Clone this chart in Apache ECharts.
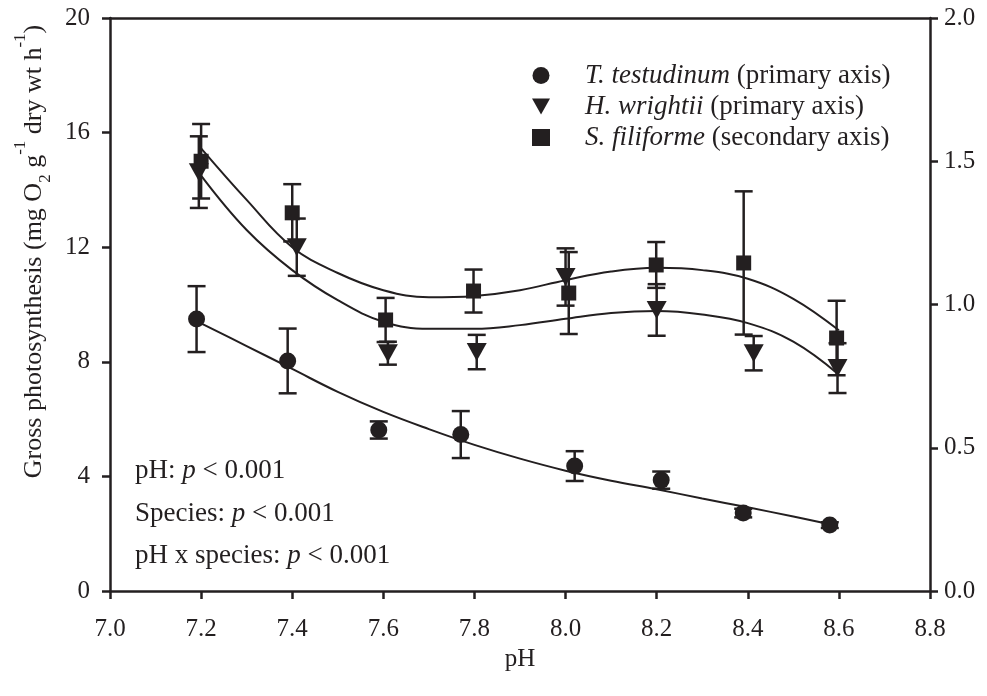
<!DOCTYPE html>
<html>
<head>
<meta charset="utf-8">
<script src="https://cdn.jsdelivr.net/npm/echarts@6/dist/echarts.min.js"></script>
<style>
  html, body { margin: 0; padding: 0; background: #fff; }
  #chart { width: 987px; height: 696px; }
</style>
</head>
<body>
<div id="chart"></div>
<script>
// measured points (pH, mean, +/- error)
const phTT = [7.19, 7.39, 7.59, 7.77, 8.02, 8.21, 8.39, 8.58]
const valTT = [9.49, 8.03, 5.62, 5.46, 4.36, 3.87, 2.72, 2.30]
const errTT = [1.15, 1.13, 0.30, 0.82, 0.52, 0.30, 0.15, 0.10]

const phHW = [7.195, 7.41, 7.61, 7.805, 8.0, 8.2, 8.413, 8.597]
const valHW = [14.62, 12.0, 8.3, 8.34, 10.96, 9.81, 8.3, 7.78]
const errHW = [1.25, 1.0, 0.4, 0.6, 1.0, 0.9, 0.6, 0.87]

const phSF = [7.2, 7.4, 7.605, 7.798, 8.007, 8.199, 8.391, 8.595]
const valSF = [1.50, 1.32, 0.946, 1.047, 1.04, 1.138, 1.145, 0.883]
const errSF = [0.13, 0.10, 0.077, 0.075, 0.143, 0.08, 0.25, 0.13]

// fitted curves
const fitPhTT = [7.19, 7.3, 7.4, 7.5, 7.6, 7.7, 7.8, 7.9, 8.0, 8.1, 8.2, 8.3, 8.4, 8.5, 8.58]
const fitTT = [9.42, 8.55, 7.75, 6.95, 6.25, 5.65, 5.1, 4.62, 4.2, 3.85, 3.55, 3.23, 2.92, 2.6, 2.33]
const fitPh = [7.2, 7.3, 7.4, 7.5, 7.6, 7.7, 7.8, 7.9, 8.0, 8.1, 8.2, 8.3, 8.4, 8.5, 8.6]
const fitHW = [14.5, 12.6, 11.2, 10.15, 9.4, 9.15, 9.15, 9.28, 9.5, 9.7, 9.77, 9.65, 9.35, 8.7, 7.55]
const fitSF = [1.545, 1.365, 1.2, 1.11, 1.05, 1.025, 1.03, 1.05, 1.085, 1.115, 1.128, 1.12, 1.09, 1.02, 0.91]

const leftTicks = [0, 4, 8, 12, 16, 20]
const rightTicks = [0, 0.5, 1, 1.5, 2]

const ink = '#231f20'
const serif = "'Liberation Serif', 'DejaVu Serif', serif"
const fs = 27
const triangle = 'path://M0,0L20,0L10,18Z'

const pairs = (xs, ys) => xs.map((x, i) => [x, ys[i]])
const bars = (xs, ys, es) => xs.map((x, i) => [x, ys[i] - es[i], ys[i] + es[i]])

const errorBars = (name, data, yAxisIndex) => ({
  name,
  type: 'custom',
  yAxisIndex,
  data,
  z: 3,
  renderItem: (params, api) => {
    const lo = api.coord([api.value(0), api.value(1)])
    const hi = api.coord([api.value(0), api.value(2)])
    const w = 9
    const style = { stroke: ink, lineWidth: 2.5 }
    return {
      type: 'group',
      children: [
        { type: 'line', shape: { x1: lo[0], y1: lo[1], x2: hi[0], y2: hi[1] }, style },
        { type: 'line', shape: { x1: lo[0] - w, y1: lo[1], x2: lo[0] + w, y2: lo[1] }, style },
        { type: 'line', shape: { x1: hi[0] - w, y1: hi[1], x2: hi[0] + w, y2: hi[1] }, style }
      ]
    }
  }
})

const fitLine = (name, data, yAxisIndex) => ({
  name,
  type: 'line',
  yAxisIndex,
  data,
  smooth: 0.4,
  showSymbol: false,
  silent: true,
  z: 2,
  lineStyle: { color: ink, width: 2 }
})

const note = (text, top) => ({
  type: 'text',
  left: 135,
  top,
  style: {
    text,
    rich: {
      n: { fontFamily: serif, fontSize: fs, fill: ink },
      p: { fontFamily: serif, fontSize: fs, fontStyle: 'italic', fill: ink }
    }
  }
})

const axisBase = {
  axisLine: { show: true, onZero: false, lineStyle: { color: ink, width: 2.5 } },
  axisTick: { show: true, length: 8, lineStyle: { color: ink, width: 2.5 } },
  splitLine: { show: false },
  axisLabel: { color: ink, fontFamily: serif, fontSize: 25 }
}

const chart = echarts.init(document.getElementById('chart'))
chart.setOption({
  animation: false,
  backgroundColor: '#fff',
  grid: { left: 110, right: 57, top: 18, bottom: 105 },
  xAxis: [
    {
      ...axisBase,
      type: 'value',
      min: 7.0,
      max: 8.8,
      interval: 0.2,
      position: 'bottom',
      axisLabel: { ...axisBase.axisLabel, margin: 26, formatter: v => v.toFixed(1) },
      name: 'pH',
      nameLocation: 'middle',
      nameGap: 54,
      nameTextStyle: { color: ink, fontFamily: serif, fontSize: 25 }
    },
    {
      type: 'value',
      min: 7.0,
      max: 8.8,
      position: 'top',
      axisLine: { show: true, onZero: false, lineStyle: { color: ink, width: 2.5 } },
      axisTick: { show: false },
      axisLabel: { show: false },
      splitLine: { show: false }
    }
  ],
  yAxis: [
    {
      ...axisBase,
      type: 'value',
      min: leftTicks[0],
      max: leftTicks[leftTicks.length - 1],
      interval: 4,
      position: 'left',
      axisLabel: { ...axisBase.axisLabel, margin: 20 },
      name: '{a|Gross photosynthesis (mg O}{sub|2}{a| g}{sup|-1}{a| dry wt h}{sup|-1}{a|)}',
      nameLocation: 'middle',
      nameRotate: 90,
      nameGap: 57,
      nameTextStyle: {
        color: ink,
        padding: [0, 0, 0, 106],
        rich: {
          a: { fontFamily: serif, fontSize: 26, color: ink },
          sub: { fontFamily: serif, fontSize: 17, color: ink, verticalAlign: 'bottom', padding: [0, 0, -7, 0] },
          sup: { fontFamily: serif, fontSize: 17, color: ink, verticalAlign: 'top', padding: [-9, 0, 0, 0] }
        }
      }
    },
    {
      ...axisBase,
      type: 'value',
      min: rightTicks[0],
      max: rightTicks[rightTicks.length - 1],
      interval: 0.5,
      position: 'right',
      axisLabel: { ...axisBase.axisLabel, margin: 14, formatter: v => v.toFixed(1) }
    }
  ],
  legend: {
    data: ['T. testudinum', 'H. wrightii', 'S. filiforme'],
    orient: 'vertical',
    left: 527,
    top: 57,
    itemGap: 4,
    itemWidth: 18,
    itemHeight: 17,
    selectedMode: false,
    formatter: name => {
      const axis = name === 'S. filiforme' ? '(secondary axis)' : '(primary axis)'
      return `{i|${name}}{n| ${axis}}`
    },
    textStyle: {
      color: ink,
      rich: {
        i: { fontFamily: serif, fontSize: fs, fontStyle: 'italic', color: ink, padding: [0, 0, 0, 30] },
        n: { fontFamily: serif, fontSize: fs, color: ink }
      }
    }
  },
  graphic: [
    note('{n|pH: }{p|p}{n| < 0.001}', 457),
    note('{n|Species: }{p|p}{n| < 0.001}', 500),
    note('{n|pH x species: }{p|p}{n| < 0.001}', 542)
  ],
  series: [
    fitLine('fit T', pairs(fitPhTT, fitTT), 0),
    fitLine('fit H', pairs(fitPh, fitHW), 0),
    fitLine('fit S', pairs(fitPh, fitSF), 1),
    errorBars('err T', bars(phTT, valTT, errTT), 0),
    errorBars('err H', bars(phHW, valHW, errHW), 0),
    errorBars('err S', bars(phSF, valSF, errSF), 1),
    {
      name: 'T. testudinum',
      type: 'scatter',
      yAxisIndex: 0,
      data: pairs(phTT, valTT),
      symbol: 'circle',
      symbolSize: 17,
      itemStyle: { color: ink, opacity: 1 },
      z: 5
    },
    {
      name: 'H. wrightii',
      type: 'scatter',
      yAxisIndex: 0,
      data: pairs(phHW, valHW),
      symbol: triangle,
      symbolSize: [20, 18],
      itemStyle: { color: ink, opacity: 1 },
      z: 5
    },
    {
      name: 'S. filiforme',
      type: 'scatter',
      yAxisIndex: 1,
      data: pairs(phSF, valSF),
      symbol: 'rect',
      symbolSize: 15,
      itemStyle: { color: ink, opacity: 1 },
      z: 5
    }
  ]
})
</script>
</body>
</html>
